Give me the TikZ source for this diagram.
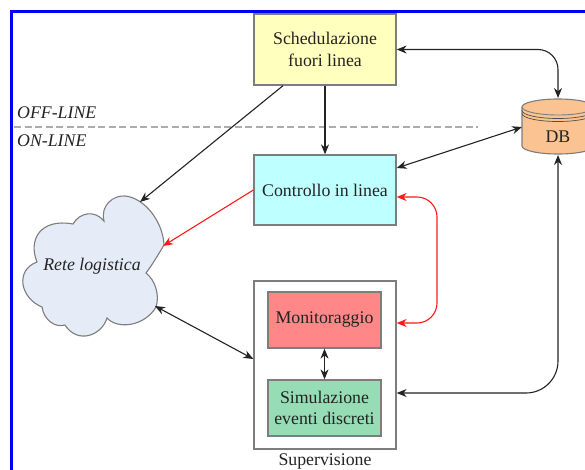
\documentclass[tikz,border=0pt]{standalone}
\usepackage{fontspec}
\setmainfont{Liberation Serif}
\usetikzlibrary{arrows.meta}
\definecolor{frameblue}{RGB}{0,0,245}
\definecolor{edgegray}{RGB}{125,125,125}
\definecolor{schedfill}{RGB}{255,255,190}
\definecolor{ctrlfill}{RGB}{190,255,255}
\definecolor{monfill}{RGB}{255,135,135}
\definecolor{simfill}{RGB}{150,220,180}
\definecolor{dbfill}{RGB}{250,195,145}
\definecolor{cloudfill}{RGB}{230,236,247}
\definecolor{inkdark}{RGB}{35,35,35}
\tikzset{
  every node/.style={font=\fontsize{17.8}{21.5}\selectfont,text=inkdark},
  blockbox/.style={draw=edgegray,line width=1.3pt,align=center,inner sep=0pt,minimum width=#1},
  blockbox/.default=142pt,
  conn/.style={draw=inkdark,line width=1.1pt,-{Stealth[length=10pt,width=8pt]}},
  conntwo/.style={draw=inkdark,line width=1.1pt,{Stealth[length=10pt,width=8pt]}-{Stealth[length=10pt,width=8pt]}},
  redconn/.style={draw=red!90!white,line width=1.1pt,-{Stealth[length=10pt,width=8pt]}}
}
\begin{document}
\begin{tikzpicture}[x=1pt,y=-1pt]
\useasboundingbox (0,0) rectangle (585,469);
\clip (0,0) rectangle (585,469);
\fill[white] (0,0) rectangle (585,469);
\draw[frameblue,line width=2.6pt] (11.5,11.5) rectangle (610,490);
% dashed separator
\coordinate (dashL) at (14,127);
\coordinate (dashR) at (478,127);
\draw[gray!65,line width=1.2pt,dash pattern=on 7pt off 3.5pt] (dashL) -- (dashR);
\node[anchor=base west,inner sep=0pt,font=\fontsize{17.8}{20}\selectfont\itshape] (off) at (17,118) {OFF-LINE};
\node[anchor=base west,inner sep=0pt,font=\fontsize{17.8}{20}\selectfont\itshape] (on) at (17,146) {ON-LINE};
% boxes
\node[blockbox,fill=schedfill,minimum height=71pt] (sched) at (325,49.5) {Schedulazione\\fuori linea};
\node[blockbox,fill=ctrlfill,minimum height=70pt] (ctrl) at (325,190) {Controllo in linea};
\node[blockbox,fill=white,minimum height=168pt] (sup) at (325,365) {};
\node[blockbox=113pt,fill=monfill,minimum height=56pt] (mon) at (324.5,320) {Monitoraggio};
\node[blockbox=113pt,fill=simfill,minimum height=56pt] (sim) at (324.5,408) {Simulazione\\eventi discreti};
\node[anchor=base,inner sep=0pt] (suplabel) at (325,465) {Supervisione};
% database
\path[fill=dbfill,draw=edgegray,line width=1.1pt] (522,107) -- (522,146) arc[start angle=180,end angle=0,x radius=36,y radius=8] -- (594,107) arc[start angle=0,end angle=180,x radius=36,y radius=-8] -- cycle;
\draw[edgegray,line width=0.9pt] (522,107) arc[start angle=180,end angle=0,x radius=36,y radius=8];
\draw[inkdark!80,line width=0.7pt] (522,110.5) arc[start angle=180,end angle=0,x radius=36,y radius=8];
\draw[inkdark!80,line width=0.7pt] (522,113.5) arc[start angle=180,end angle=0,x radius=36,y radius=8];
\node (db) at (558,137) {DB};
\coordinate (dbtop) at (558,98);
\coordinate (dbbot) at (558,155);
\coordinate (dbleft) at (522,127);
% cloud
\path[fill=cloudfill,draw=edgegray,line width=1.1pt]
 (104,221) .. controls (100,205) and (114,195) .. (125,196)
 .. controls (145,198) and (163,222) .. (164,245)
 .. controls (158,255) and (152,265) .. (146,273)
 .. controls (155,280) and (160,295) .. (156,307)
 .. controls (145,326) and (118,330) .. (107,318)
 .. controls (102,335) and (78,345) .. (65,325)
 .. controls (55,328) and (44,320) .. (42,307)
 .. controls (20,298) and (15,270) .. (37,262)
 .. controls (28,240) and (40,218) .. (73,224)
 .. controls (80,212) and (95,210) .. (104,221) -- cycle;
\node[font=\fontsize{17.8}{20}\selectfont\itshape] (cloud) at (92,266) {Rete logistica};
\coordinate (cloudA) at (140,202);
\coordinate (cloudB) at (163,246);
\coordinate (cloudC) at (155,306);
% connectors
\draw[conn] ([xshift=-42pt]sched.south) -- (cloudA);
\draw[conn] (sched.south) -- (ctrl.north);
\draw[conntwo,rounded corners=20pt] (sched.east) -- (dbtop |- sched.east) -- (dbtop);
\draw[conntwo] ([yshift=22pt]ctrl.east) -- (dbleft);
\draw[conntwo,rounded corners=32pt] (dbbot) -- (558,393) -- ([yshift=-28pt]sup.east);
\draw[redconn] (ctrl.west) -- (cloudB);
\draw[redconn,{Stealth[length=10pt,width=8pt]}-{Stealth[length=10pt,width=8pt]},rounded corners=20pt] ([yshift=-7pt]ctrl.east) -- (437,197) -- (437,323) -- ([yshift=42pt]sup.east);
\draw[conntwo] (cloudC) -- ([yshift=6pt]sup.west);
\draw[conntwo] (mon.south) -- (sim.north);
\end{tikzpicture}
\end{document}
